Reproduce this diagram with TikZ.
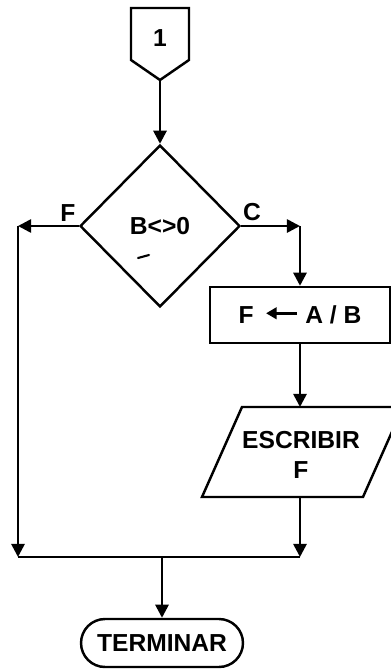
\documentclass[tikz,border=0pt]{standalone}
\usepackage{fontspec}
\setmainfont{Liberation Sans}
\usetikzlibrary{arrows.meta,shapes.geometric,shapes.misc}

\begin{document}
\begin{tikzpicture}[
  x=0.02cm, y=-0.02cm,
  font=\bfseries\fontsize{14}{17}\selectfont,
  shapeline/.style={draw=black, line width=1.4pt},
  decision/.style={shapeline, diamond, inner sep=0pt,
                   minimum width=3.2cm, minimum height=3.24cm},
  processbox/.style={shapeline, rectangle, inner sep=0pt,
                     minimum width=3.6cm, minimum height=1.12cm},
  terminal/.style={shapeline, rounded rectangle, inner sep=0pt,
                   minimum width=3.24cm, minimum height=0.96cm},
  arrow/.style={-{Triangle[length=7.5pt,width=7.5pt]}, line width=1.5pt},
  plain/.style={line width=1.5pt},
  label/.style={inner sep=0pt}
]
\useasboundingbox (0,0) rectangle (391,669);

% Off-page connector
\draw[shapeline, line join=miter] (131,8) -- (189,8) -- (189,60) -- (160,80) -- (131,60) -- cycle;
\node[label] (con) at (160,38) {1};
\coordinate (contip) at (160,80);

% Decision
\node[decision] (dec) at (160,226) {};
\node[label] (cond) at (160,226) {B<>0};
\draw[line width=1.2pt, line cap=round] (138,258) -- (149,255);

% Process and output
\node[processbox] (asig) at (300,315) {F\,
  \tikz[baseline=-0.5ex]\draw[line width=1.6pt,-{Triangle[length=6pt,width=6.5pt]}] (0.62cm,0.3ex) -- (0cm,0.3ex);
  A / B};
\draw[shapeline, line join=miter] (202,497) -- (242,407) -- (403,407) -- (363,497) -- cycle;
\node[label, align=center] (esc) at (301,455) {ESCRIBIR\\F};
\coordinate (esctop) at (300,407);
\coordinate (escbot) at (300,497);

% Terminal
\node[terminal] (ter) at (162,643) {TERMINAR};

% Junction points
\coordinate (fl) at (18,226);
\coordinate (fr) at (300,226);
\coordinate (jl) at (18,557);
\coordinate (jr) at (300,557);
\coordinate (jm) at (162,557);

% Connectors
\draw[arrow] (contip) -- (dec.north);
\draw[arrow] (dec.west) -- (fl);
\draw[arrow] (dec.east) -- (fr);
\draw[arrow] (fr) -- (asig.north);
\draw[arrow] (fl) -- (jl);
\draw[arrow] (asig.south) -- (esctop);
\draw[arrow] (escbot) -- (jr);
\draw[plain] (jl) -- (jr);
\draw[arrow] (jm) -- (ter.north);

% Branch labels
\node[label] (lf) at (68,213) {F};
\node[label] (lc) at (252,212) {C};

\end{tikzpicture}
\end{document}
